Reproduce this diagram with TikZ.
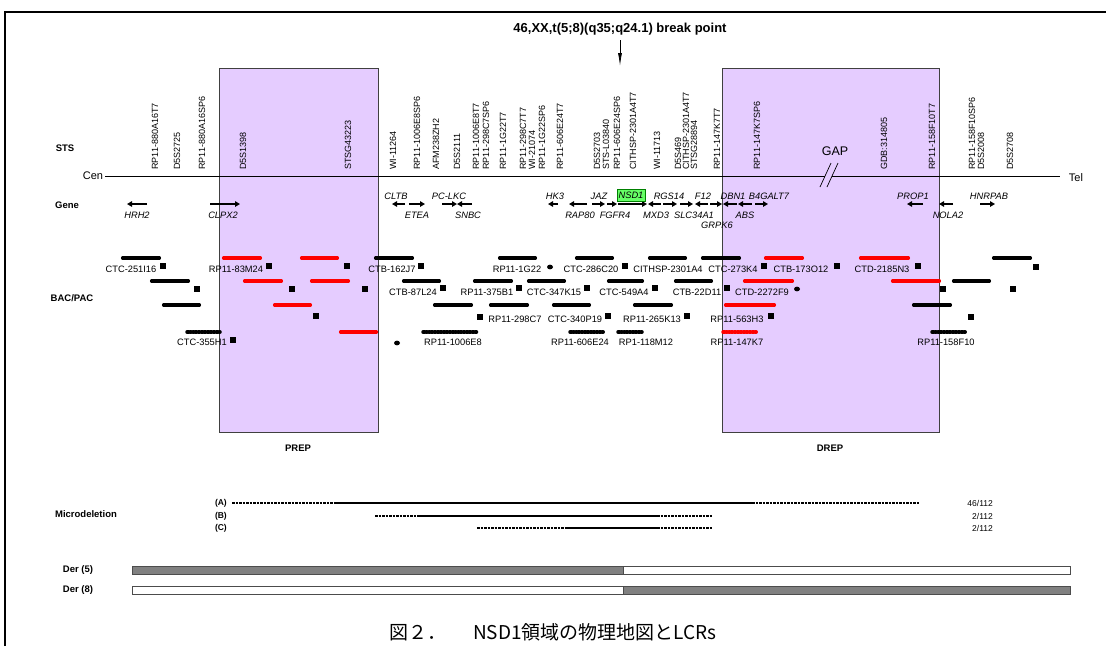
\documentclass[tikz,border=0pt]{standalone}
\usepackage{fontspec}
\setmainfont{Liberation Sans}
\newfontfamily\jpfont{Noto Sans CJK JP}
\usepackage{xcolor}
\usetikzlibrary{arrows.meta}
\definecolor{repfill}{RGB}{229,204,255}
\definecolor{nsdgreen}{RGB}{102,255,102}
\definecolor{dergray}{RGB}{128,128,128}

\begin{document}
\begin{tikzpicture}[x=1pt,y=-1pt,
  sts/.style={rotate=90,anchor=west,inner sep=0pt,font=\fontsize{9}{9}\selectfont},
  gene/.style={line width=1.4pt,-{Triangle[length=5pt,width=5.5pt]}},
  genelbl/.style={inner sep=0pt,font=\fontsize{9.3}{10}\selectfont\itshape},
  bac/.style={line width=3.5pt,line cap=round,shorten <=1.7pt,shorten >=1.7pt},
  bead/.style={line width=3.5pt,line cap=round,dash pattern=on 1.3pt off 1.6pt},
  baclbl/.style={inner sep=0pt,font=\fontsize{9.3}{10}\selectfont},
  rowlbl/.style={inner sep=0pt,font=\fontsize{9.5}{10}\selectfont\bfseries},
  repbox/.style={fill=repfill,draw=black!75,line width=0.8pt},
  delpart/.style={line width=2pt,dash pattern=on 2.5pt off 1pt},
  delsolid/.style={line width=2.4pt},
  derbar/.style={draw=black!70,line width=0.8pt}]
\useasboundingbox (0,0) rectangle (1106,646);

% 外枠
\draw[line width=1.2pt] (5,646) -- (5,12) -- (1106,12);

% PREP / DREP 区域
\draw[repbox] (219,68) rectangle (378,432);
\draw[repbox] (722,68) rectangle (939,432);
\node[rowlbl] (prep) at (298,448) {PREP};
\node[rowlbl] (drep) at (830,448) {DREP};

% 切断点
\node[font=\fontsize{13}{15}\selectfont\bfseries,inner sep=1pt] (bp) at (620,29)
  {46,XX,t(5;8)(q35;q24.1) break point};
\coordinate (bpend) at (620,66);
\draw[line width=0.8pt,-{Latex[length=13pt,width=4pt]},shorten <=4pt] (bp) -- (bpend);

% 染色体
\node[font=\fontsize{11}{12}\selectfont,inner sep=0pt] (cen) at (93,176) {Cen};
\node[font=\fontsize{11}{12}\selectfont,inner sep=0pt] (tel) at (1076,178) {Tel};
\draw[line width=0.7pt] (105,176) -- (825,176);
\draw[line width=0.7pt] (832,176) -- (1060,176);
\draw[line width=0.7pt] (820,187) -- (831,163);
\draw[line width=0.7pt] (827,187) -- (838,163);
\node[font=\fontsize{12.5}{13}\selectfont,inner sep=0pt] (gap) at (835,151) {GAP};

% 行ラベル
\node[rowlbl] (lsts) at (65,148) {STS};
\node[rowlbl] (lgene) at (67,205) {Gene};
\node[rowlbl] (lbac) at (72,298) {BAC/PAC};
\node[rowlbl] (ldel) at (86,514) {Microdeletion};
\node[rowlbl] (lder5) at (78,570) {Der (5)};
\node[rowlbl] (lder8) at (78,590) {Der (8)};

% STS
\foreach \x/\t [count=\i] in {155/RP11-880A16T7, 177/D5S2725, 202/RP11-880A16SP6,
    243/D5S1398, 348/STSG43223, 393/WI-11264, 417/RP11-1006E8SP6, 436/AFM238ZH2,
    457/D5S2111, 476/RP11-1006E8T7, 486/RP11-298C7SP6, 503/RP11-1G22T7,
    523/RP11-298C7T7, 532/WI-21074, 542/RP11-1G22SP6, 560/RP11-606E24T7,
    597/D5S2703, 606/STS-L03840, 617/RP11-606E24SP6, 633/CITHSP-2301A4T7,
    657/WI-11713, 678/D5S469, 686/CITHSP-2301A4T7, 694/STSG28894,
    717/RP11-147K7T7, 757/RP11-147K7SP6, 884/GDB:314805, 932/RP11-158F10T7,
    972/RP11-158F10SP6, 981/D5S2008, 1010/D5S2708}
  \node[sts] (sts\i) at (\x,170) {\t};

% 遺伝子
\foreach \a/\b/\lx/\ly/\t [count=\i] in {147/127/137/215/HRH2, 210/240/223/215/CLPX2,
    405/392/396/196/CLTB, 409/425/417/215/ETEA, 442/457/449/196/PC-LKC,
    472/457/468/215/SNBC, 558/548/555/196/HK3, 587/569/580/215/RAP80,
    592/605/599/196/JAZ, 607/617/615/215/FGFR4, 661/648/656/215/MXD3,
    663/677/669/196/RGS14, 680/693/694/215/SLC34A1, 708/695/703/196/F12,
    710/722/717/225/GRPK6, 737/723/733/196/DBN1, 752/738/745/215/ABS,
    755/768/769/196/B4GALT7, 923/907/913/196/PROP1, 953/939/948/215/NOLA2,
    980/995/989/196/HNRPAB}
{
  \draw[gene] (\a,204) -- (\b,204);
  \node[genelbl] (g\i) at (\lx,\ly) {\t};
}
\draw[gene] (618,204) -- (647,204);
\node[genelbl,fill=nsdgreen,draw=green!50!black,line width=0.6pt,
  inner xsep=1.5pt,minimum height=12pt] (nsd) at (631,195.5) {NSD1};

% BAC/PAC
\foreach \a/\b/\y/\c in {121/161/258/black, 222/262/258/red, 300/339/258/red,
    374/414/258/black, 498/537/258/black, 575/614/258/black, 648/687/258/black,
    701/741/258/black, 764/804/258/red, 859/910/258/red, 992/1032/258/black,
    150/190/281/black, 243/283/281/red, 310/350/281/red, 402/441/281/black,
    473/513/281/black, 527/566/281/black, 607/644/281/black, 674/713/281/black,
    743/794/281/red, 891/941/281/red, 952/991/281/black,
    162/201/305/black, 273/312/305/red, 433/473/305/black, 489/529/305/black,
    552/591/305/black, 633/673/305/black, 724/776/305/red, 912/952/305/black,
    339/378/332/red}
  \draw[bac,draw=\c] (\a,\y) -- (\b,\y);
\foreach \a/\b/\c in {187/220/black, 423/478/black, 570/604/black, 618/642/black,
    723/757/red, 932/966/black}
  \draw[bead,draw=\c] (\a,332) -- (\b,332);

% マーカー
\foreach \x/\y in {163/266, 269/266, 347/266, 421/266, 625/266, 764/266, 837/266,
    918/266, 1036/267, 197/289, 292/289, 365/289, 443/288, 519/288, 587/288,
    655/288, 727/288, 943/289, 1013/289, 316/316, 480/317, 608/316, 687/316,
    771/316, 971/317, 233/340}
  \fill (\x,\y) +(-2.6,-2.6) rectangle +(2.6,2.6);
\fill (550,267) ellipse (3 and 2.4);
\fill (797,289) ellipse (3 and 2.4);
\fill (397,343) ellipse (3 and 2.4);

% クローン名
\foreach \x/\y/\t [count=\i] in {131/269/CTC-251I16, 236/269/RP11-83M24,
    392/269/CTB-162J7, 517/269/RP11-1G22, 591/269/CTC-286C20,
    668/269/CITHSP-2301A4, 733/269/CTC-273K4, 801/269/CTB-173O12,
    882/269/CTD-2185N3, 413/292/CTB-87L24, 487/292/RP11-375B1,
    554/292/CTC-347K15, 624/292/CTC-549A4, 697/292/CTB-22D11,
    762/292/CTD-2272F9, 515/319/RP11-298C7, 575/319/CTC-340P19,
    652/319/RP11-265K13, 737/319/RP11-563H3, 202/342/CTC-355H1,
    453/342/RP11-1006E8, 580/342/RP11-606E24, 646/342/RP1-118M12,
    737/342/RP11-147K7, 946/342/RP11-158F10}
  \node[baclbl] (bac\i) at (\x,\y) {\t};

% 微細欠失
\foreach \y/\l/\n in {503/(A)/46\slash112, 516/(B)/2\slash112, 528/(C)/2\slash112}
{
  \node[inner sep=0pt,anchor=east,font=\fontsize{8.5}{9}\selectfont\bfseries] at (227,\y) {\l};
  \node[inner sep=0pt,anchor=east,font=\fontsize{8.5}{9}\selectfont] at (993,\y) {\n};
}
\draw[delpart] (232,503) -- (335,503);
\draw[delsolid] (335,503) -- (752,503);
\draw[delpart] (752,503) -- (920,503);
\draw[delpart] (375,516) -- (417,516);
\draw[delsolid] (417,516) -- (657,516);
\draw[delpart] (657,516) -- (712,516);
\draw[delpart] (477,528) -- (567,528);
\draw[delsolid] (567,528) -- (657,528);
\draw[delpart] (657,528) -- (713,528);

% 派生染色体
\draw[derbar,fill=dergray] (132,566) rectangle (623,574);
\draw[derbar,fill=white] (623,566) rectangle (1070,574);
\draw[derbar,fill=white] (132,586) rectangle (623,594);
\draw[derbar,fill=dergray] (623,586) rectangle (1070,594);

\node[font=\jpfont\fontsize{19}{21}\selectfont,inner sep=0pt] (cap) at (553,632)
  {図２．\hspace{1.4em}NSD1領域の物理地図とLCRs};
\end{tikzpicture}
\end{document}
